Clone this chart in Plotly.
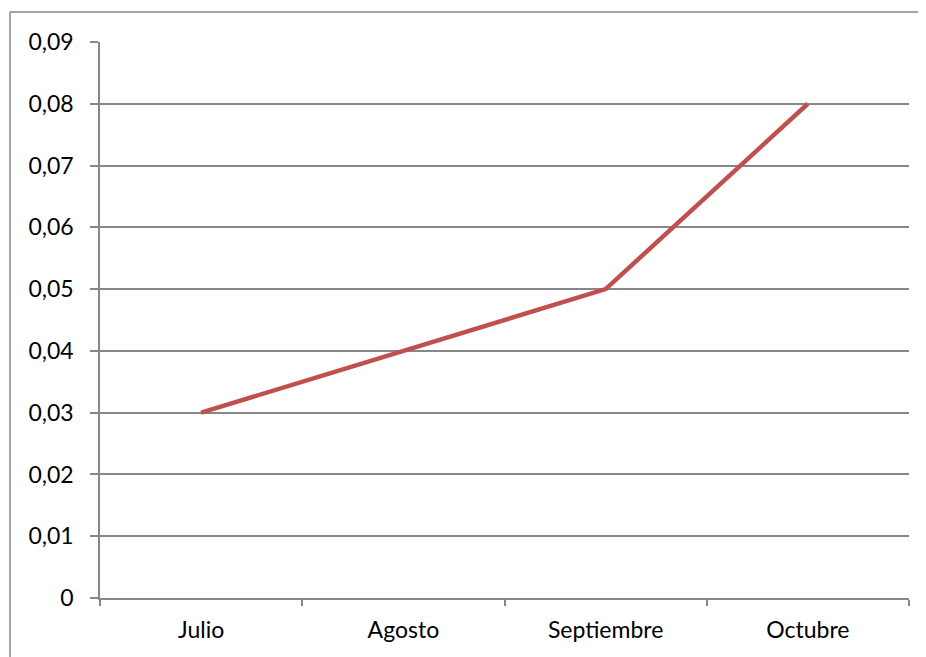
import plotly.graph_objects as go

categories = ["Julio", "Agosto", "Septiembre", "Octubre"]
values = [0.03, 0.04, 0.05, 0.08]
y_tickvals = [0, 0.01, 0.02, 0.03, 0.04, 0.05, 0.06, 0.07, 0.08, 0.09]
y_ticktext = ["0", "0,01", "0,02", "0,03", "0,04", "0,05", "0,06", "0,07", "0,08", "0,09"]

# page body adds an 8px offset; figure sized to fit the viewport
W, H = 918, 649
L, R, T, B = 92, 17, 34, 59
pw, ph = W - L - R, H - T - B

fig = go.Figure()
fig.add_trace(go.Scatter(
    x=categories, y=values, mode="lines",
    line=dict(color="#C0504D", width=4.5),
    showlegend=False, hoverinfo="x+y",
))

grey = "#878787"
bx, by = 2, 4  # outer border position in figure px
fig.update_layout(
    width=W, height=H,
    margin=dict(l=L, r=R, t=T, b=B),
    paper_bgcolor="white", plot_bgcolor="white",
    font=dict(family="Lato, Open Sans, sans-serif", size=23, color="black"),
    separators=",.",
    xaxis=dict(
        type="category", range=[-0.5, 3.5],
        showgrid=False, showline=True, linecolor=grey, linewidth=1.5,
        ticks="outside", tickson="boundaries", ticklen=6, tickcolor=grey, tickwidth=1.5,
        ticklabelstandoff=11,
    ),
    yaxis=dict(
        range=[0, 0.09], tickvals=y_tickvals, ticktext=y_ticktext,
        showgrid=True, gridcolor=grey, gridwidth=1.5,
        showline=True, linecolor=grey, linewidth=1.5,
        ticks="outside", ticklen=8, tickcolor=grey, tickwidth=1.5,
        ticklabelstandoff=12, zeroline=False,
    ),
    shapes=[
        dict(type="line", xref="paper", yref="paper",
             x0=(bx - L) / pw, x1=(bx - L) / pw,
             y0=1 + (T - by) / ph, y1=-(B + 20) / ph,
             line=dict(color=grey, width=1.5)),
        dict(type="line", xref="paper", yref="paper",
             x0=(bx - L) / pw, x1=(W + 20 - L) / pw,
             y0=1 + (T - by) / ph, y1=1 + (T - by) / ph,
             line=dict(color=grey, width=1.5)),
    ],
)

fig.write_html("out.html")
